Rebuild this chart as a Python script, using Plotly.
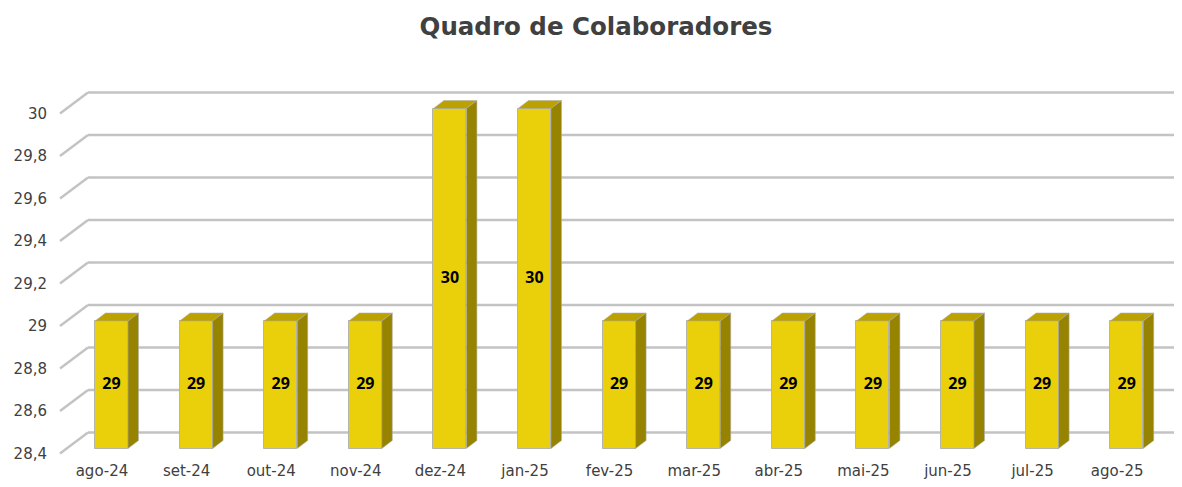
import plotly.graph_objects as go

# ---- data ----
categories = ["ago-24", "set-24", "out-24", "nov-24", "dez-24", "jan-25", "fev-25",
              "mar-25", "abr-25", "mai-25", "jun-25", "jul-25", "ago-25"]
values = [29, 29, 29, 29, 30, 30, 29, 29, 29, 29, 29, 29, 29]
y_ticks = [28.4, 28.6, 28.8, 29.0, 29.2, 29.4, 29.6, 29.8, 30.0]
title_text = "Quadro de Colaboradores"

# ---- geometry (pixels, in screenshot coordinates) ----
PAGE_OFF = 8             # default body margin of the page
W, H = 1182 - PAGE_OFF, 487 - PAGE_OFF
PLOT_L, PLOT_R, PLOT_T, PLOT_B = 60, 1182, 80, 460   # screen pixels
ML = PLOT_L - PAGE_OFF
MT = PLOT_T - PAGE_OFF
MR = 0
MB = H - (PLOT_B - PAGE_OFF)
plot_w = PLOT_R - PLOT_L
plot_h = PLOT_B - PLOT_T
cat_px = 84.6            # pixels per category
unit_px = 212.5          # pixels per y unit
first_label_px = 102     # pixel x of first category label (front plane)
front_30_px = 113.5      # pixel y of value 30 on the front plane

xmin = -(first_label_px - PLOT_L) / cat_px
xmax = xmin + plot_w / cat_px
ytop_val = y_ticks[-1] + (front_30_px - PLOT_T) / unit_px
ymin = ytop_val - plot_h / unit_px

# wall depth
wall_dx_px, wall_dy_px = 28, 21
# bars sit part-way into the depth
bar_shift_x_px, bar_shift_y_px = 9.5, 5
bar_w = 0.39
bar_dx = 10.5 / cat_px
bar_dy = 8 / unit_px

sx = bar_shift_x_px / cat_px
sy = bar_shift_y_px / unit_px

FRONT = "#E9D00B"
TOP = "#BBA200"
SIDE = "#968300"
GRID = "#C3C3C3"
TXT = "#404040"

xs = list(range(len(categories)))
base = y_ticks[0]

fig = go.Figure()

# front faces
fig.add_trace(go.Bar(
    x=xs, y=[v - base for v in values], base=base,
    width=bar_w, marker=dict(color=FRONT, line=dict(color="rgba(175,175,175,0.9)", width=1)),
    hoverinfo="skip", xaxis="x2", yaxis="y2", showlegend=False,
))

# top and side faces
tx, ty, sxs, sys_ = [], [], [], []
for x, v in zip(xs, values):
    x0, x1 = x - bar_w / 2, x + bar_w / 2
    tx += [x0, x1, x1 + bar_dx, x0 + bar_dx, x0, None]
    ty += [v, v, v + bar_dy, v + bar_dy, v, None]
    sxs += [x1, x1 + bar_dx, x1 + bar_dx, x1, x1, None]
    sys_ += [v, v + bar_dy, base + bar_dy, base, v, None]

fig.add_trace(go.Scatter(x=tx, y=ty, mode="lines", fill="toself", fillcolor=TOP,
                         line=dict(color="rgba(175,175,175,0.7)", width=0.8),
                         hoverinfo="skip", xaxis="x2", yaxis="y2", showlegend=False))
fig.add_trace(go.Scatter(x=sxs, y=sys_, mode="lines", fill="toself", fillcolor=SIDE,
                         line=dict(color="rgba(175,175,175,0.7)", width=0.8),
                         hoverinfo="skip", xaxis="x2", yaxis="y2", showlegend=False))

# data labels, centred on the front faces
fig.add_trace(go.Scatter(
    x=xs, y=[(base + v) / 2 for v in values], mode="text",
    text=[str(v) for v in values], textposition="middle center",
    textfont=dict(family="Open Sans", size=16, color="black", weight="bold"),
    hoverinfo="skip", xaxis="x2", yaxis="y2", showlegend=False,
))

# gridlines: diagonal from front plane to back wall, then along the back wall
shapes = []
dxp = wall_dx_px / plot_w
dyv = wall_dy_px / unit_px
for t in y_ticks:
    shapes.append(dict(type="line", xref="paper", yref="y", x0=0, x1=dxp, y0=t, y1=t + dyv,
                       line=dict(color=GRID, width=2.5), layer="below"))
    shapes.append(dict(type="line", xref="paper", yref="y", x0=dxp, x1=1, y0=t + dyv, y1=t + dyv,
                       line=dict(color=GRID, width=2.5), layer="below"))

fig.update_layout(
    width=W, height=H,
    margin=dict(l=ML, r=MR, t=MT, b=MB, autoexpand=False),
    paper_bgcolor="white", plot_bgcolor="white",
    separators=",.",
    title=dict(text=title_text, x=(596 - PAGE_OFF) / W, xanchor="center",
               y=1 - (26 - PAGE_OFF) / H, yanchor="middle",
               font=dict(family="DejaVu Sans", size=24.5, color=TXT, weight="bold")),
    xaxis=dict(range=[xmin, xmax], tickmode="array", tickvals=xs, ticktext=categories,
               showgrid=False, zeroline=False, showline=False, ticks="", automargin=False,
               tickfont=dict(family="DejaVu Sans", size=15, color=TXT)),
    yaxis=dict(range=[ymin, ytop_val], tickmode="array", tickvals=y_ticks,
               showgrid=False, zeroline=False, showline=False, ticks="", automargin=False,
               ticklabelstandoff=12,
               tickfont=dict(family="DejaVu Sans", size=15, color=TXT)),
    xaxis2=dict(range=[xmin - sx, xmax - sx], overlaying="x", visible=False),
    yaxis2=dict(range=[ymin - sy, ytop_val - sy], overlaying="y", visible=False),
    shapes=shapes,
    bargap=0,
)

fig.write_html("out.html")
